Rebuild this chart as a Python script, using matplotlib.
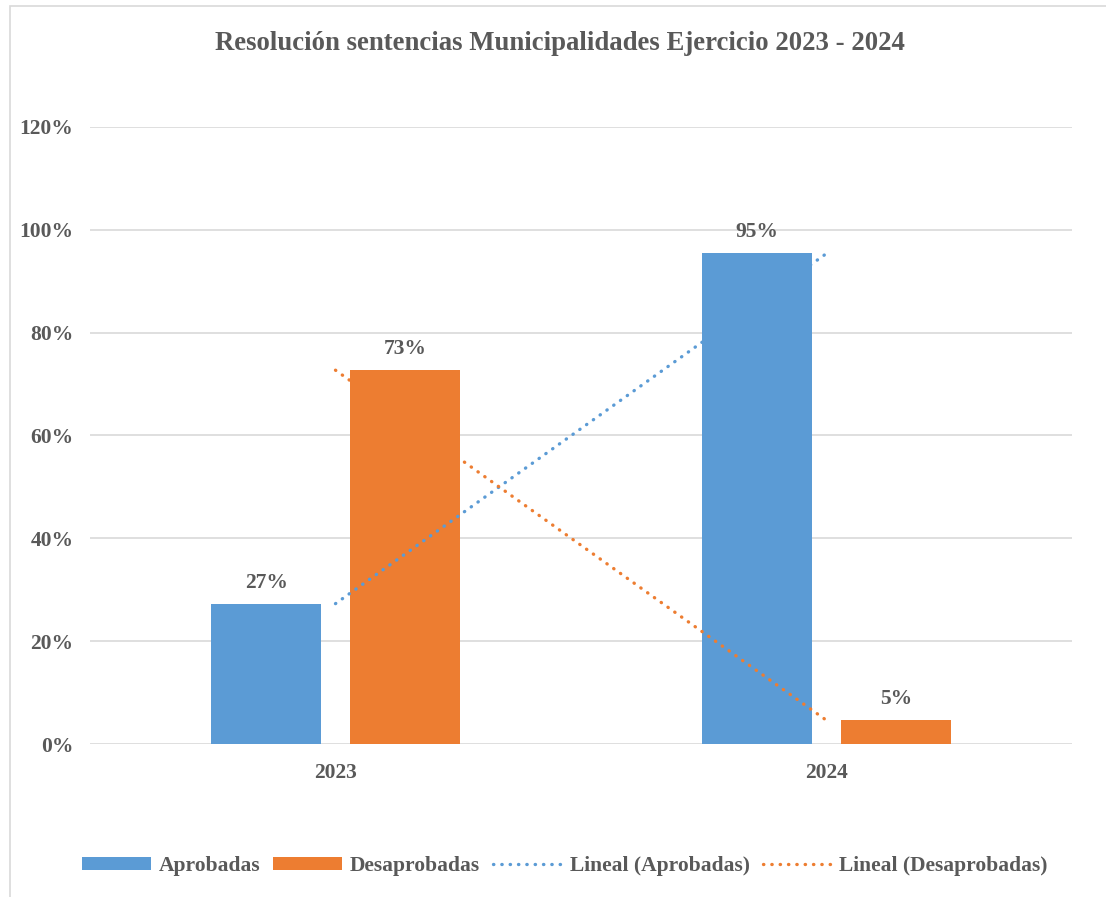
import matplotlib.pyplot as plt
import numpy as np
from matplotlib.patches import Rectangle
from matplotlib.ticker import FuncFormatter

# data
years = ["2023", "2024"]
aprobadas = [27.3, 95.4]
desaprobadas = [72.7, 4.6]
labels_aprob = ["27%", "95%"]
labels_desap = ["73%", "5%"]

BLUE = "#5B9BD5"
ORANGE = "#ED7D31"
TEXT = "#595959"
GRID = "#D9D9D9"

plt.rcParams["font.family"] = ["Liberation Serif", "DejaVu Serif"]
plt.rcParams["font.weight"] = "bold"

W, H = 1106, 897
fig = plt.figure(figsize=(W / 100, H / 100), dpi=100)
ax = fig.add_axes([90 / W, 1 - 744 / H, 982 / W, 617 / H])

# chart border (cut off at right and bottom in the reference)
fig.patches.append(Rectangle((10 / W, -0.2), 2, 1.2 - 6 / H, transform=fig.transFigure,
                             facecolor="none", edgecolor=GRID, linewidth=1.2, zorder=-5))

x = np.arange(len(years))
width = 0.224
off = 0.141
b1 = ax.bar(x - off, aprobadas, width, color=BLUE, label="Aprobadas", zorder=2)
b2 = ax.bar(x + off, desaprobadas, width, color=ORANGE, label="Desaprobadas", zorder=2)

for bars, labs in ((b1, labels_aprob), (b2, labels_desap)):
    for rect, lab in zip(bars, labs):
        ax.annotate(lab, (rect.get_x() + rect.get_width() / 2, rect.get_height()),
                    xytext=(0, 8), textcoords="offset points", ha="center", va="bottom",
                    fontsize=15.5, color=TEXT, fontweight="bold")

# linear trendlines at the category centres
dots = (0, (0.1, 2.4))
lines = []
for vals, col, name in ((aprobadas, BLUE, "Lineal (Aprobadas)"),
                        (desaprobadas, ORANGE, "Lineal (Desaprobadas)")):
    a, b = np.polyfit(x, vals, 1)
    ln, = ax.plot(x, a * x + b, color=col, linewidth=2.4, linestyle=dots,
                  dash_capstyle="round", label=name, zorder=3)
    lines.append(ln)

ax.set_xlim(-0.5, 1.5)
ax.set_ylim(0, 120)
ax.set_yticks(np.arange(0, 121, 20))
ax.yaxis.set_major_formatter(FuncFormatter(lambda v, p: f"{v:.0f}%"))
ax.set_xticks(x)
ax.set_xticklabels(years)
ax.tick_params(axis="y", length=0, pad=12, labelsize=15.5, labelcolor=TEXT)
ax.tick_params(axis="x", length=0, pad=14, labelsize=15.5, labelcolor=TEXT)
ax.grid(axis="y", color=GRID, linewidth=1.2, zorder=0)
ax.set_axisbelow(True)
for s in ax.spines.values():
    s.set_visible(False)

fig.text(560 / W, 1 - 44 / H, "Resolución sentencias Municipalidades Ejercicio 2023 - 2024",
         ha="center", va="center", fontsize=19.3, color=TEXT, fontweight="bold")

leg = ax.legend([b1, b2] + lines,
                ["Aprobadas", "Desaprobadas", "Lineal (Aprobadas)", "Lineal (Desaprobadas)"],
                loc="center", bbox_to_anchor=(565 / W, 1 - 866 / H),
                bbox_transform=fig.transFigure, ncol=4, frameon=False,
                fontsize=15.5, handlelength=3.2, handleheight=0.55,
                handletextpad=0.35, columnspacing=0.62)
for t in leg.get_texts():
    t.set_color(TEXT)

fig.savefig("out.png", dpi=100)
